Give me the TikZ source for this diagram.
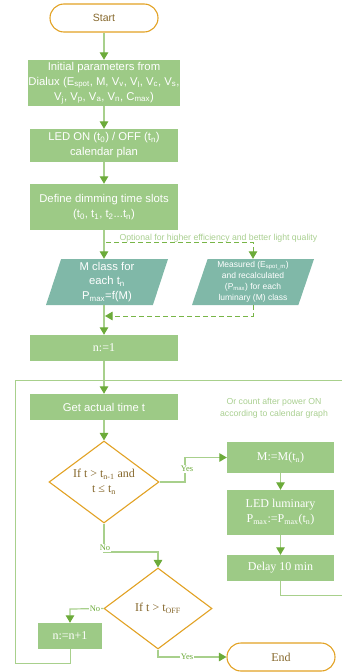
\documentclass[tikz,border=0pt]{standalone}
\usepackage{fontspec}
\setmainfont{Liberation Sans}
\newfontfamily\tnr{Liberation Serif}
\usetikzlibrary{shapes.geometric,arrows.meta}

\definecolor{boxgreen}{HTML}{9DCA86}
\definecolor{ioteal}{HTML}{80B8A8}
\definecolor{decorange}{HTML}{E2A224}
\definecolor{linegreen}{HTML}{A8D08C}
\definecolor{tipgreen}{HTML}{6CAB3A}
\definecolor{dashgreen}{HTML}{78B547}
\definecolor{notegreen}{HTML}{A9CF90}
\definecolor{dectext}{HTML}{86682C}

\begin{document}
\begin{tikzpicture}[x=1pt, y=-1pt,
    >={Triangle[width=8.5pt,length=7.5pt,color=tipgreen]},
    proc/.style={rectangle, fill=boxgreen, text=white, align=center, inner sep=0pt,
        font=\fontsize{11.3}{15}\selectfont},
    tproc/.style={proc, font=\tnr\fontsize{12}{15}\selectfont},
    io/.style={trapezium, trapezium left angle=70, trapezium right angle=110,
        trapezium stretches body, fill=ioteal, text=white, align=center,
        inner sep=1pt, minimum height=46pt, minimum width=122pt},
    dec/.style={diamond, draw=decorange, line width=1.1pt, fill=white, text=dectext,
        align=center, inner sep=0pt, aspect=1.34, font=\tnr\fontsize{12}{15}\selectfont},
    term/.style={rectangle, rounded corners=14pt, draw=decorange, line width=1.1pt,
        minimum width=108pt, minimum height=28pt, text=dectext},
    flow/.style={line width=1.2pt, draw=linegreen, ->},
    wire/.style={line width=0.9pt, draw=linegreen},
    opt/.style={dash pattern=on 5pt off 3pt, line width=1pt, draw=dashgreen},
    lbl/.style={fill=white, inner sep=1pt, text=tipgreen, font=\tnr\fontsize{8.5}{9}\selectfont},
    note/.style={text=notegreen, align=center, font=\fontsize{8.7}{12}\selectfont}]

\useasboundingbox (0,0) rectangle (342,672);

% main column
\node[term, font=\fontsize{10.5}{12}\selectfont] (start) at (104,18) {Start};
\node[proc, minimum width=148pt, minimum height=46pt] (init) at (104,83)
    {Initial parameters from\\Dialux (E\textsubscript{spot}, M, V\textsubscript{v}, V\textsubscript{l}, V\textsubscript{c}, V\textsubscript{s},\\V\textsubscript{j}, V\textsubscript{p}, V\textsubscript{a}, V\textsubscript{n}, C\textsubscript{max})};
\node[proc, minimum width=148pt, minimum height=33pt] (calplan) at (104,145.5)
    {LED ON (t\textsubscript{0}) / OFF (t\textsubscript{n})\\calendar plan};
\node[proc, minimum width=148pt, minimum height=46pt] (slots) at (104,207)
    {Define dimming time slots\\(t\textsubscript{0}, t\textsubscript{1}, t\textsubscript{2}...t\textsubscript{n})};

\node[io, font=\fontsize{11.3}{14.5}\selectfont] (mclass) at (107,282)
    {M class for\\each t\textsubscript{n}\\P\textsubscript{max}=f(M)};
\node[io, font=\fontsize{8.5}{11}\selectfont] (measured) at (253,282)
    {Measured (E\textsubscript{spot\_m})\\and recalculated\\(P\textsubscript{max}) for each\\luminary (M) class};

\node[tproc, minimum width=148pt, minimum height=26pt] (n1) at (104,348) {n:=1};
\node[proc, minimum width=148pt, minimum height=26pt] (gettime) at (104,407) {Get actual time t};

\node[dec, minimum width=110pt, minimum height=82pt] (dec1) at (104,482)
    {If t > t\textsubscript{n-1} and\\t ≤ t\textsubscript{n}};
\node[dec, minimum width=108pt, minimum height=81pt] (dec2) at (158,608.5)
    {If t > t\textsubscript{OFF}};
\node[tproc, minimum width=64pt, minimum height=26pt] (inc) at (70,636) {n:=n+1};

% right column
\node[tproc, minimum width=107pt, minimum height=31pt] (mm) at (280.5,457.5) {M:=M(t\textsubscript{n})};
\node[tproc, minimum width=107pt, minimum height=45pt] (lum) at (280.5,512.5)
    {LED luminary\\P\textsubscript{max}:=P\textsubscript{max}(t\textsubscript{n})};
\node[tproc, minimum width=107pt, minimum height=26pt] (delay) at (280.5,568) {Delay 10 min};
\node[term, font=\tnr\fontsize{12}{14}\selectfont] (endn) at (281,657) {End};

\node[note, anchor=west] (optnote) at (116,238)
    {Optional for higher efficiency and better light quality};
\node[note] (countnote) at (274,408) {Or count after power ON\\according to calendar graph};

% loop frame
\coordinate (looptl) at (15,380);
\coordinate (loopbl) at (15,663);
\coordinate (looptr) at (346,380);
\coordinate (loopbr) at (346,595);
\draw[wire] (inc.south) |- (loopbl) -- (looptl) -- (looptr);
\draw[wire] (delay.south) |- (loopbr);

\draw[flow] (start) -- (init);
\draw[flow] (init) -- (calplan);
\draw[flow] (calplan) -- (slots);
\draw[flow] (slots.south) -- (slots.south |- mclass.north);
\draw[flow] (slots.south |- mclass.south) -- (n1.north);
\draw[flow] (n1) -- (gettime);
\draw[flow] (gettime) -- (dec1);

% optional measurement branch
\coordinate (optfork) at (106,242);
\coordinate (optback) at (105,316);
\draw[opt, ->] (optfork) -- (optfork -| measured.north) -- (measured.north);
\draw[opt, ->] (measured.south) |- (optback);

% decisions
\coordinate (yes1) at (185,482);
\coordinate (no1) at (104,552);
\coordinate (no2) at (70,609);
\coordinate (yes2) at (158,657);
\draw[flow] (dec1.east) -- (yes1) |- (mm.west);
\draw[flow] (mm) -- (lum);
\draw[flow] (lum) -- (delay);
\draw[flow] (dec1.south) -- (no1) -| (dec2.north);
\draw[flow] (dec2.west) -- (no2) -- (inc.north);
\draw[flow] (dec2.south) -- (yes2) -- (endn.west);
\node[lbl] at (187,469) {Yes};
\node[lbl] at (105,548) {No};
\node[lbl] at (95,609) {No};
\node[lbl] at (187,657) {Yes};
\end{tikzpicture}
\end{document}
